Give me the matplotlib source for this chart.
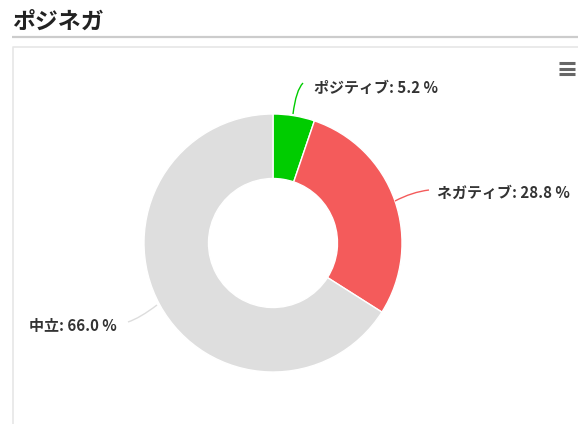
import matplotlib
matplotlib.use("Agg")
import matplotlib.pyplot as plt
from matplotlib.path import Path
from matplotlib.patches import PathPatch

plt.rcParams['font.family'] = ['Noto Sans CJK JP', 'DejaVu Sans']

title = "ポジネガ"
categories = ["ポジティブ", "ネガティブ", "中立"]
values = [5.2, 28.8, 66.0]
colors = ["#00cc00", "#f45b5b", "#dedede"]

W, H = 578, 424
fig = plt.figure(figsize=(W / 100, H / 100), dpi=100)
ax = fig.add_axes([0, 0, 1, 1])
ax.set_xlim(0, W)
ax.set_ylim(0, H)
ax.set_aspect('equal')
ax.axis('off')

def Y(y):
    return H - y

# title and underline
ax.text(12, Y(22), title, fontsize=16.5, fontweight='bold', color='#222222',
        ha='left', va='center')
ax.plot([12, W], [Y(36.5), Y(36.5)], color='#cccccc', lw=1.6, solid_capstyle='butt')

# panel border
ax.plot([12.5, 12.5, W + 2], [-2, Y(47), Y(47)], color='#e6e6e6', lw=1.2)

# hamburger menu
for yy in (62.5, 68.5, 74):
    ax.plot([559, 575], [Y(yy), Y(yy)], color='#666666', lw=2.2, solid_capstyle='butt')

# donut
cx, cy, r = 273, Y(243), 129
wedges, _ = ax.pie(values, colors=colors, startangle=90, counterclock=False,
                   center=(cx, cy), radius=r, frame=True,
                   wedgeprops=dict(width=r * 0.5, edgecolor='white', linewidth=1))
ax.set_xlim(0, W)
ax.set_ylim(0, H)
ax.axis('off')

# labels with curved connectors
label_specs = [
    # (start, control, end, text position, ha)
    ((293, 114), (296, 90), (303, 83), (314, 88), 'left'),
    ((395, 201), (412, 192), (429, 190), (437, 193), 'left'),
    ((157, 305), (140, 318), (128, 322), (117, 326), 'right'),
]
for (cat, val, col), (p0, p1, p2, tp, ha) in zip(zip(categories, values, colors), label_specs):
    verts = [(p0[0], Y(p0[1])), (p1[0], Y(p1[1])), (p2[0], Y(p2[1]))]
    path = Path(verts, [Path.MOVETO, Path.CURVE3, Path.CURVE3])
    lc = col if col != "#dedede" else "#dddddd"
    ax.add_patch(PathPatch(path, fc='none', ec=lc, lw=1))
    ax.text(tp[0], Y(tp[1]), f"{cat}: {val:.1f} %", fontsize=10.8, fontweight='bold',
            color='#333333', ha=ha, va='center')

fig.savefig("out.png", dpi=100)
